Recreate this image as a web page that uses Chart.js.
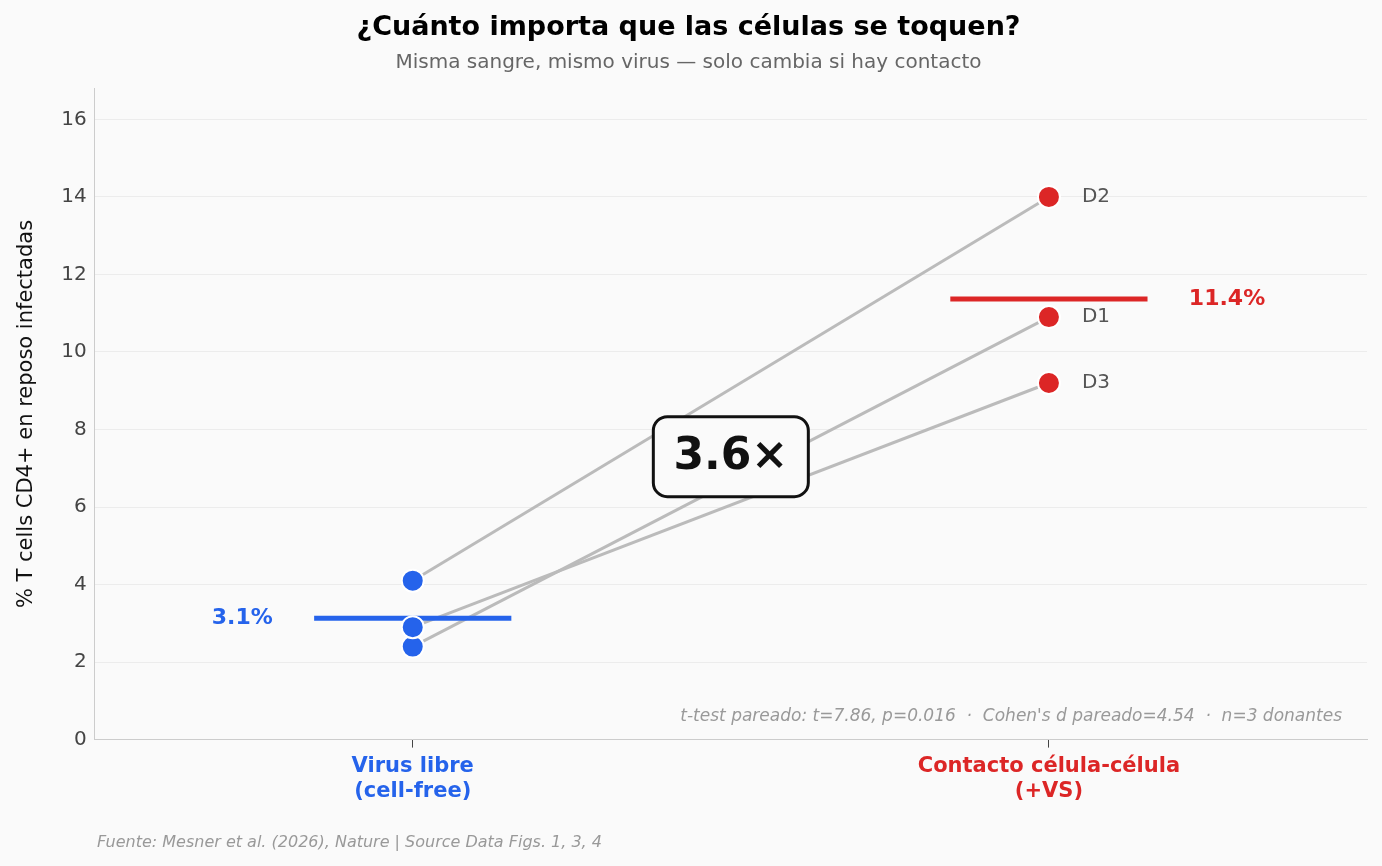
<!DOCTYPE html>
<html><head><meta charset="utf-8">
<script src="https://cdn.jsdelivr.net/npm/chart.js@4/dist/chart.umd.min.js"></script>
<style>html,body{margin:0;background:#fafafa;}#w{width:1382px;height:866px;}</style>
</head><body><div id="w"><canvas id="c"></canvas></div>
<script>
const categories = ["Virus libre\n(cell-free)", "Contacto célula-célula\n(+VS)"];
const donors = ["D1", "D2", "D3"];
const cellFree = [2.4, 4.1, 2.9];
const contact = [10.9, 14.0, 9.2];
const meanLabels = ["3.1%", "11.4%"];
const yTicks = [0,2,4,6,8,10,12,14,16];
const BLUE = "#2563eb", RED = "#dc2626";
const mean = a => a.reduce((s,v)=>s+v,0)/a.length;
const mCF = mean(cellFree), mC = mean(contact);

const datasets = [];
donors.forEach((d,i)=>{
  datasets.push({type:'line',data:[{x:0,y:cellFree[i]},{x:1,y:contact[i]}],borderColor:'#bbbbbb',borderWidth:3,pointRadius:0,order:3});
});
datasets.push({type:'line',data:[{x:-0.155,y:mCF},{x:0.155,y:mCF}],borderColor:BLUE,borderWidth:5,pointRadius:0,order:2});
datasets.push({type:'line',data:[{x:0.845,y:mC},{x:1.155,y:mC}],borderColor:RED,borderWidth:5,pointRadius:0,order:2});
datasets.push({type:'scatter',data:cellFree.map(v=>({x:0,y:v})),backgroundColor:BLUE,borderColor:'#ffffff',borderWidth:2,pointRadius:11,order:1});
datasets.push({type:'scatter',data:contact.map(v=>({x:1,y:v})),backgroundColor:RED,borderColor:'#ffffff',borderWidth:2,pointRadius:11,order:1});

const annot = {
  id:'annot',
  afterDraw(ch){
    const c=ch.ctx, xs=ch.scales.x, ys=ch.scales.y, ca=ch.chartArea;
    c.save();
    c.textBaseline='middle';
    c.font='20px "DejaVu Sans"'; c.fillStyle='#555';c.textAlign='left';
    donors.forEach((d,i)=>c.fillText(d, xs.getPixelForValue(1)+33, ys.getPixelForValue(contact[i])));
    c.font='bold 22px "DejaVu Sans"';
    c.fillStyle=BLUE;c.textAlign='right';
    c.fillText(meanLabels[0], xs.getPixelForValue(-0.22), ys.getPixelForValue(mCF));
    c.fillStyle=RED;c.textAlign='left';
    c.fillText(meanLabels[1], xs.getPixelForValue(1.22), ys.getPixelForValue(mC));
    // box
    const bx=xs.getPixelForValue(0.5), by=ys.getPixelForValue(7.3);
    const w=155,h=80;
    c.beginPath(); c.roundRect(bx-w/2,by-h/2,w,h,14);
    c.fillStyle='#fafafa'; c.fill(); c.lineWidth=3; c.strokeStyle='#111'; c.stroke();
    c.fillStyle='#111'; c.textAlign='center'; c.font='bold 44px "DejaVu Sans"';
    c.fillText('3.6×', bx, by+1);
    c.font='italic 17px "DejaVu Sans"'; c.fillStyle='#999'; c.textAlign='right';
    c.fillText("t-test pareado: t=7.86, p=0.016  ·  Cohen's d pareado=4.54  ·  n=3 donantes", ca.right-25, ys.getPixelForValue(0.6));
    c.textAlign='left'; c.font='italic 16px "DejaVu Sans"';
    c.fillText('Fuente: Mesner et al. (2026), Nature | Source Data Figs. 1, 3, 4', 97, 843);
    c.restore();
  }
};

new Chart(document.getElementById('c'),{
  data:{datasets},
  plugins:[annot],
  options:{
    responsive:true,maintainAspectRatio:false,animation:false,
    layout:{padding:{left:10,right:15,top:0,bottom:56}},
    plugins:{legend:{display:false},tooltip:{enabled:false},
      title:{display:true,text:'¿Cuánto importa que las células se toquen?',font:{family:'DejaVu Sans',size:27,weight:'bold'},color:'#000',padding:{top:12,bottom:6}},
      subtitle:{display:true,text:'Misma sangre, mismo virus — solo cambia si hay contacto',font:{family:'DejaVu Sans',size:20},color:'#666',padding:{bottom:14}}},
    scales:{
      x:{type:'linear',min:-0.5,max:1.5,
        afterBuildTicks:a=>{a.ticks=[{value:0},{value:1}];},
        ticks:{callback:v=>categories[v].split('\n'),color:c=>c.tick&&c.tick.value===1?RED:BLUE,font:{family:'DejaVu Sans',size:21,weight:'bold'},padding:6},
        grid:{drawOnChartArea:false,tickLength:8,color:'#444'},border:{color:'#ccc'}},
      y:{min:0,max:16.8,
        afterBuildTicks:a=>{a.ticks=yTicks.map(v=>({value:v}));},
        ticks:{color:'#444',font:{family:'DejaVu Sans',size:20},padding:8},
        grid:{color:'#ececec',tickLength:6,drawTicks:false},border:{color:'#ccc'},
        title:{display:true,text:'% T cells CD4+ en reposo infectadas',font:{family:'DejaVu Sans',size:21},color:'#111',padding:{bottom:14}}}
    }
  }
});
</script></body></html>
